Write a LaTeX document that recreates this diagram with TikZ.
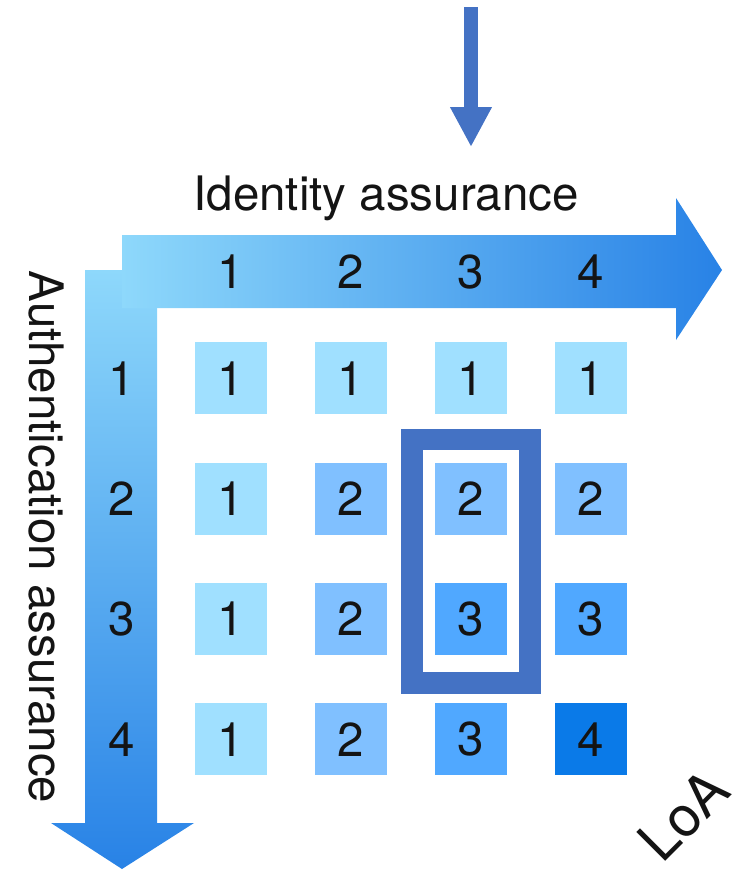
\documentclass[tikz,border=0pt]{standalone}
\usepackage{fontspec}
\setmainfont{TeX Gyre Heros}
\usepackage{tikz}
\usetikzlibrary{arrows.meta, calc, positioning, fit}
\definecolor{achsehell}{HTML}{8ED8FB}
\definecolor{achsedunkel}{HTML}{2882E6}
\definecolor{markierung}{HTML}{4472C4}
\definecolor{stufe1}{HTML}{A0E0FF}
\definecolor{stufe2}{HTML}{80C0FF}
\definecolor{stufe3}{HTML}{50A8FF}
\definecolor{stufe4}{HTML}{0A7AE8}

\begin{document}
\begin{tikzpicture}[
    x=1pt, y=-1pt,
    every node/.style={font=\fontsize{47.5}{50}\selectfont, text=black!92},
    feld/.style={minimum size=72pt, inner sep=0pt},
  ]
  \useasboundingbox (0,0) rectangle (744,870);

  % Achsenpfeile
  \shade[top color=achsehell, bottom color=achsedunkel]
    (85,270) -- (157,270) -- (157,823) -- (194,823) -- (122,869)
    -- (51,823) -- (85,823) -- cycle;
  \shade[left color=achsehell, right color=achsedunkel]
    (122,235) -- (676,235) -- (676,198) -- (722,270) -- (676,340)
    -- (676,308) -- (122,308) -- cycle;

  \node[anchor=base] (identitaet) at (386,210) {Identity assurance};
  \node[rotate=-90, anchor=base] (authentisierung) at (29,537)
    {Authentication assurance};
  \node[rotate=45, anchor=base, font=\fontsize{56}{58}\selectfont]
    (loa) at (698,829) {LoA};

  % Stufen
  \foreach \c in {1,...,4}
    \node (oben-\c) at (111+120*\c,272) {\c};
  \foreach \r in {1,...,4}
    \node (links-\r) at (122,258+120.3*\r) {\r};
  \foreach \r in {1,...,4}
    \foreach \c in {1,...,4} {
      \pgfmathtruncatemacro{\stufe}{min(\r,\c)}
      \node[feld, fill=stufe\stufe] (feld-\r-\c)
        at (111+120*\c,258+120.3*\r) {\stufe};
    }

  % Auswahl
  \node[draw=markierung, line width=21.5pt, fit=(feld-2-3)(feld-3-3),
        inner xsep=22.75pt, inner ysep=25.5pt, yshift=-2.5pt] (auswahl) {};
  \coordinate (start) at (471,7);
  \coordinate (ziel) at (471,147);
  \draw[markierung, line width=14pt, -{Triangle[length=40pt, width=39pt]}]
    (start) -- (ziel);
\end{tikzpicture}
\end{document}
